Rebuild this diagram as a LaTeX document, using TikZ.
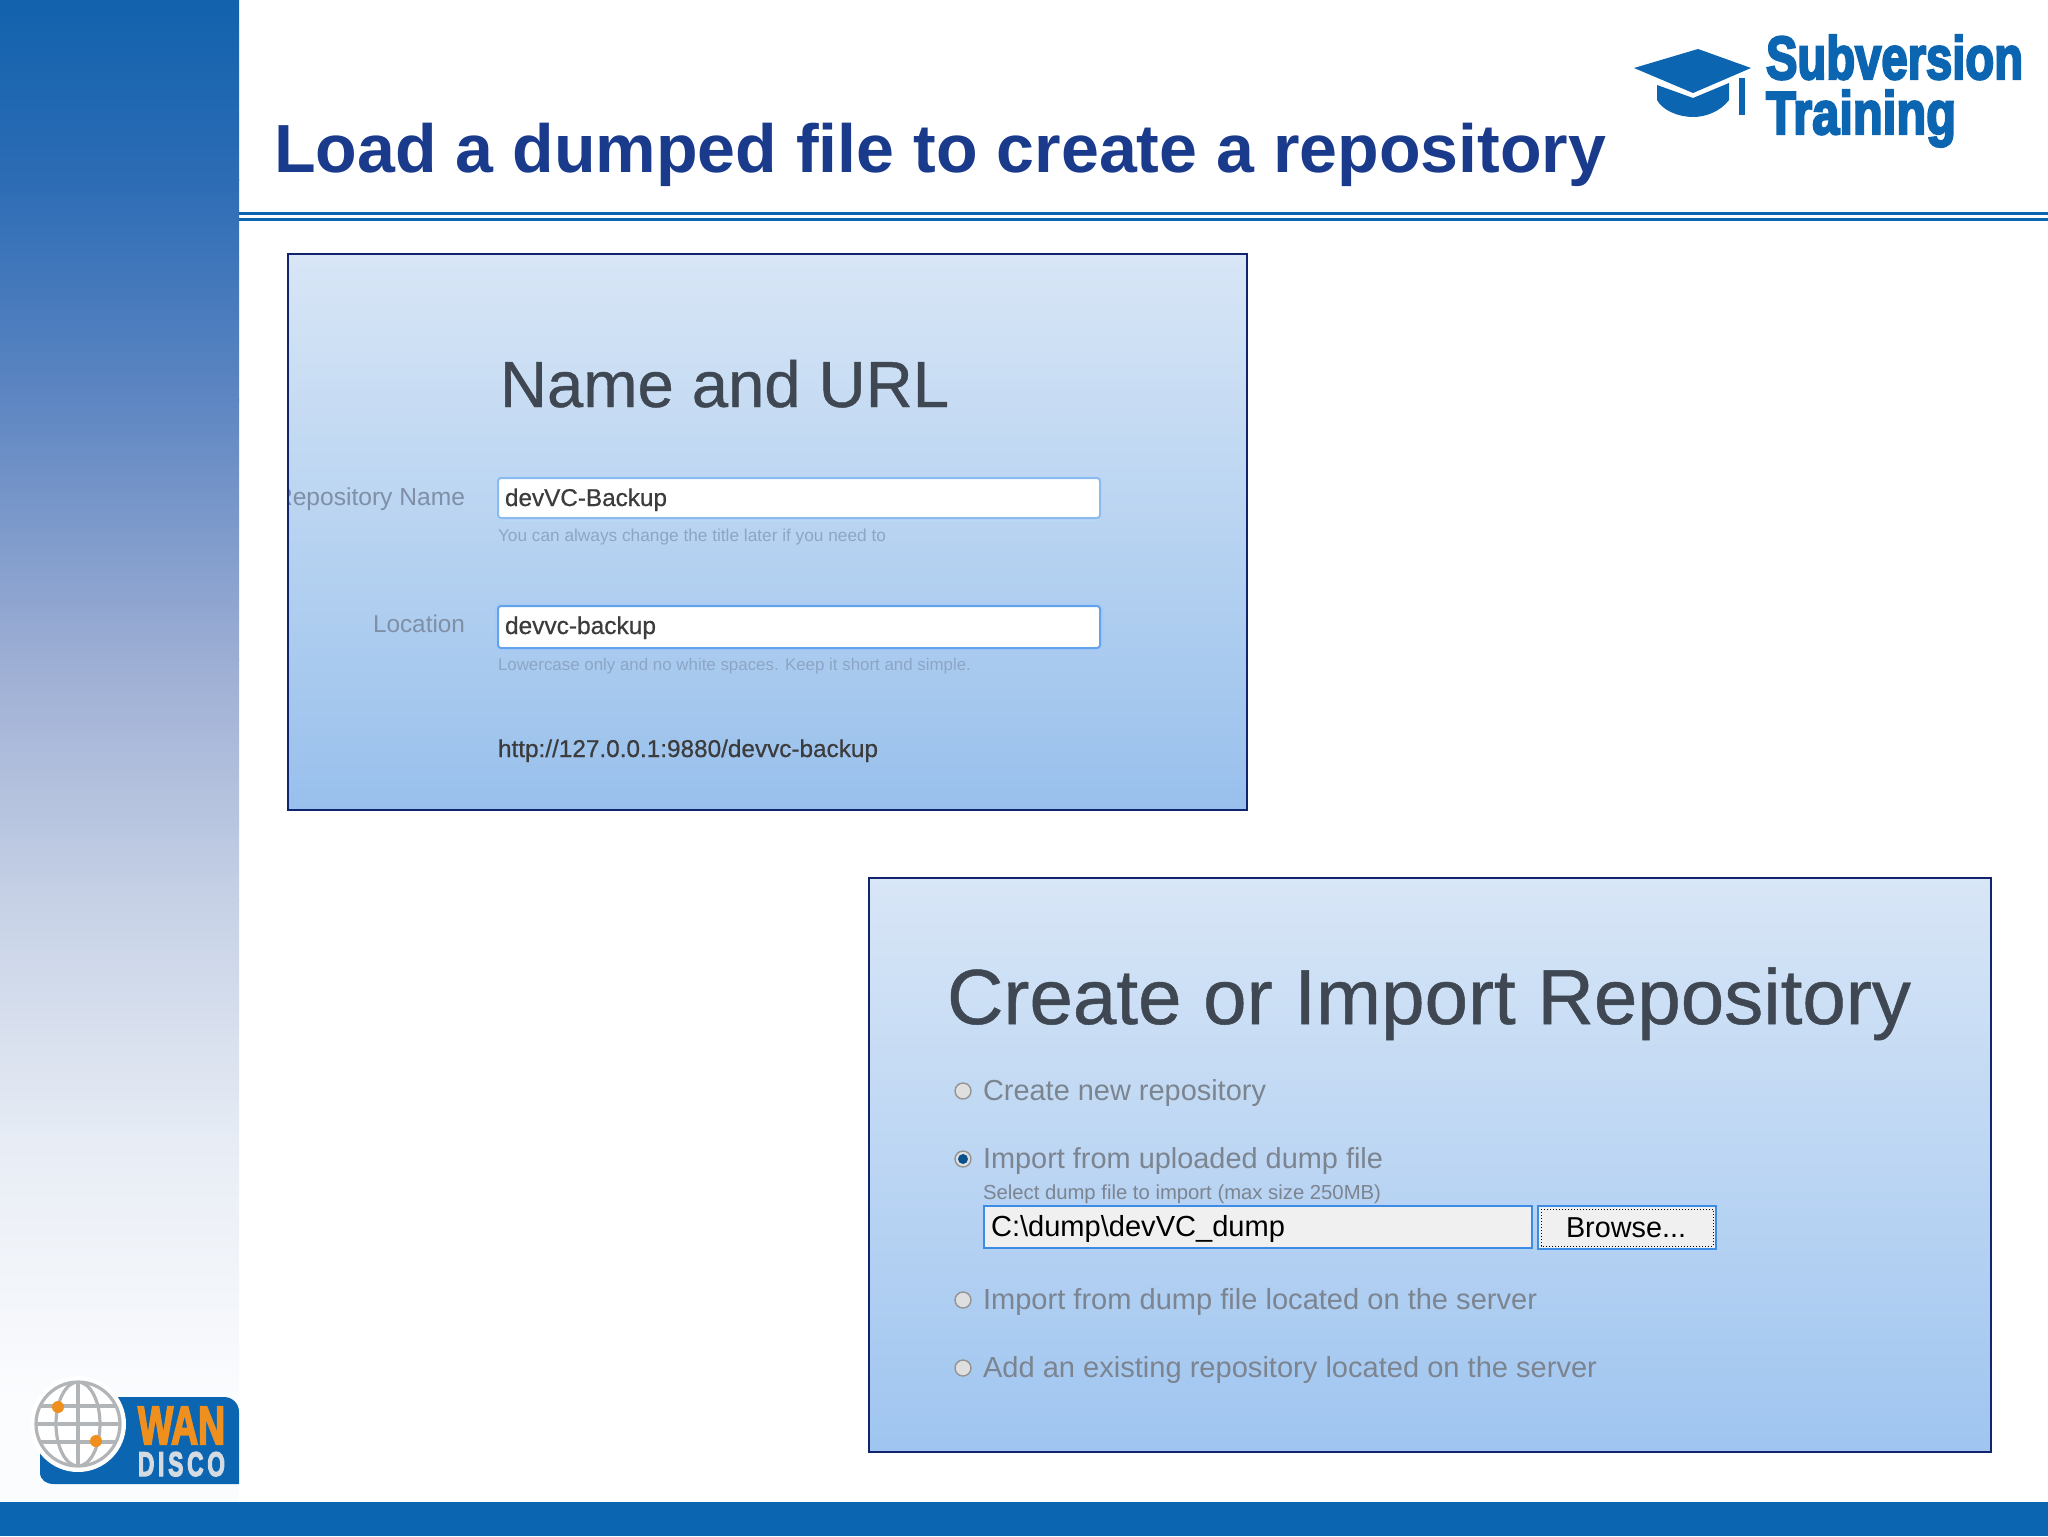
\documentclass[tikz,border=0pt]{standalone}
\usepackage{fontspec}
\usepackage{graphicx}
\setmainfont{Liberation Sans}
\newfontfamily\logofont[FakeBold=4]{Liberation Sans}
\newfontfamily\softfont[FakeBold=0.6]{Liberation Sans}
\newdimen\pxu \pxu=0.5pt
\newcommand{\fitw}[2]{\resizebox{#1\pxu}{!}{#2}}
\newcommand{\fitwh}[3]{\resizebox{#1\pxu}{#2\pxu}{#3}}
\definecolor{navy}{HTML}{12246E}
\definecolor{titleblue}{HTML}{1A3A8C}
\definecolor{brand}{HTML}{0B65B0}
\definecolor{wanorange}{HTML}{EF8F1E}
\definecolor{globegray}{HTML}{B2B5B8}
\definecolor{discogray}{HTML}{D3DAE2}
\definecolor{panelhead}{HTML}{3F4852}
\definecolor{labelgray}{HTML}{7F8FA6}
\definecolor{hintgray}{HTML}{8DA5C4}
\definecolor{fieldtext}{HTML}{3C3C3C}
\definecolor{radiotext}{HTML}{7C8490}
\definecolor{fieldblue}{HTML}{3C8CE6}
\definecolor{panelhi}{HTML}{D8E6F6}
\definecolor{panelloa}{HTML}{98C0EC}
\definecolor{panellob}{HTML}{9FC5F0}
\tikzset{
  txt/.style={anchor=base west,inner sep=0pt,outer sep=0pt},
  txtr/.style={anchor=base east,inner sep=0pt,outer sep=0pt},
  panel/.style={top color=panelhi,bottom color=#1},
  panelbox/.style={draw=navy,line width=1.25pt,fill=none},
  field/.style={draw=#1,line width=1pt,fill=white,rounded corners=1.5pt},
  radio/.style={circle,draw=gray!85,line width=.7pt,fill=gray!25,minimum size=8pt,inner sep=0pt},
  globeline/.style={draw=globegray,line width=1.6pt}
}
\begin{document}
\begin{tikzpicture}[x=0.5pt,y=-0.5pt]
\useasboundingbox (0,0) rectangle (2048,1536);
\fill[white] (0,0) rectangle (2048,1536);
% sidebar gradient
\definecolor{s0}{HTML}{1262AD}
\definecolor{s1}{HTML}{2C6CB5}
\definecolor{s2}{HTML}{5E86C2}
\definecolor{s3}{HTML}{9DAED4}
\definecolor{s4}{HTML}{C6D1E6}
\definecolor{s5}{HTML}{E8EDF5}
\definecolor{s6}{HTML}{FBFCFE}
\shade[top color=s0,bottom color=s1] (0,0) rectangle (239,180);
\shade[top color=s1,bottom color=s2] (0,179) rectangle (239,400);
\shade[top color=s2,bottom color=s3] (0,399) rectangle (239,660);
\shade[top color=s3,bottom color=s4] (0,659) rectangle (239,900);
\shade[top color=s4,bottom color=s5] (0,899) rectangle (239,1150);
\shade[top color=s5,bottom color=s6] (0,1149) rectangle (239,1400);
\fill[s6] (0,1399) rectangle (239,1502);
% bottom bar
\fill[brand] (0,1502) rectangle (2048,1536);
% rules
\fill[brand] (239,212) rectangle (2048,215);
\fill[brand] (239,218) rectangle (2048,221);
% title
\node[txt,text=titleblue] (title) at (274,172) {\fitw{1332}{\bfseries Load a dumped file to create a repository}};
% Subversion Training logo
\fill[brand] (1634,68) -- (1698,49) -- (1751,68) -- (1693,93) -- cycle;
\fill[brand] (1657,85) -- (1693,98) -- (1729,83) -- (1729,100) .. controls (1720,112) and (1705,117) .. (1693,117) .. controls (1678,117) and (1662,110) .. (1657,100) -- cycle;
\fill[brand] (1739,78) rectangle (1745,115);
\node[txt,text=brand] (subv) at (1766,79) {\fitwh{257}{44}{\logofont\bfseries Subversion}};
\node[txt,text=brand] (train) at (1766,134) {\fitwh{190}{44}{\logofont\bfseries Training}};
% WANdisco logo
\fill[brand] (40,1440) -- (40,1472) .. controls (40,1480) and (46,1484) .. (54,1484) -- (239,1484) -- (239,1412) .. controls (239,1403) and (232,1397) .. (224,1397) -- (100,1397) -- cycle;
\fill[white] (78,1424) circle (48);
\begin{scope}
\clip (78,1424) circle (42);
\draw[globeline] (78,1380) -- (78,1468);
\draw[globeline] (30,1406) -- (125,1406);
\draw[globeline] (30,1424) -- (125,1424);
\draw[globeline] (30,1442) -- (125,1442);
\draw[globeline] (78,1424) ellipse (22 and 42);
\end{scope}
\draw[globeline] (78,1424) circle (42);
\fill[wanorange] (58,1407) circle (6);
\fill[wanorange] (96,1441) circle (6);
\node[txt,text=wanorange] (wan) at (138,1444) {\fitwh{87}{37}{\logofont\bfseries WAN}};
\node[txt,text=discogray] (disco) at (138,1476) {\fitwh{87}{24}{\logofont\bfseries D\,I\,S\,C\,O}};
% panel 1
\shade[panel=panelloa] (288,254) rectangle (1247,810);
\begin{scope}
\clip (288,254) rectangle (1247,810);
\node[txt,text=panelhead] (nameurl) at (500,407) {\fitw{449}{\softfont Name and URL}};
\node[txtr,text=labelgray] (lblrepo) at (465,505) {\fitw{190}{Repository Name}};
\node[txtr,text=labelgray] (lblloc) at (465,632) {\fitw{92}{Location}};
\draw[draw=fieldblue!35,line width=2pt,rounded corners=2pt] (498,478) rectangle (1100,519);
\draw[field=fieldblue!60] (498,478) rectangle (1100,518);
\draw[draw=fieldblue!45,line width=2.5pt,rounded corners=2pt] (497,606) rectangle (1101,649);
\draw[field=fieldblue!80] (498,606) rectangle (1100,648);
\node[txt,text=fieldtext] (val1) at (505,506) {\fitw{162}{\softfont devVC-Backup}};
\node[txt,text=fieldtext] (val2) at (505,634) {\fitw{151}{\softfont devvc-backup}};
\node[txt,text=hintgray] (hint1) at (498,541) {\fitw{388}{You can always change the title later if you need to}};
\node[txt,text=hintgray] (hint2) at (498,670) {\fitw{473}{Lowercase only and no white spaces. Keep it short and simple.}};
\node[txt,text=fieldtext] (url) at (498,757) {\fitw{380}{\softfont http://127.0.0.1:9880/devvc-backup}};
\end{scope}
\draw[panelbox] (288,254) rectangle (1247,810);
% panel 2
\shade[panel=panellob] (869,878) rectangle (1991,1452);
\node[txt,text=panelhead] (crimp) at (947,1024) {\fitw{964}{\softfont Create or Import Repository}};
\node[radio] (r1) at (963,1091) {};
\node[radio] (r2) at (963,1159) {};
\fill[brand!80!black] (r2) circle (5);
\node[radio] (r3) at (963,1300) {};
\node[radio] (r4) at (963,1368) {};
\node[txt,text=radiotext] (t1) at (983,1100) {\fitw{283}{Create new repository}};
\node[txt,text=radiotext] (t2) at (983,1168) {\fitw{400}{Import from uploaded dump file}};
\node[txt,text=radiotext] (t2b) at (983,1199) {\fitw{398}{Select dump file to import (max size 250MB)}};
\node[txt,text=radiotext] (t3) at (983,1309) {\fitw{554}{Import from dump file located on the server}};
\node[txt,text=radiotext] (t4) at (983,1377) {\fitw{614}{Add an existing repository located on the server}};
\draw[draw=fieldblue,line width=1pt,fill=black!6] (984,1206) rectangle (1532,1248);
\node[txt,text=black] (dumpval) at (991,1236) {\fitw{294}{C:\textbackslash dump\textbackslash devVC\_dump}};
\draw[draw=fieldblue,line width=1pt,fill=black!6] (1538,1206) rectangle (1716,1249);
\draw[black,line width=.5pt,densely dotted] (1541,1209) rectangle (1713,1246);
\node[txt,text=black] (browse) at (1566,1237) {\fitw{120}{Browse...}};
\draw[panelbox] (869,878) rectangle (1991,1452);
\end{tikzpicture}
\end{document}
